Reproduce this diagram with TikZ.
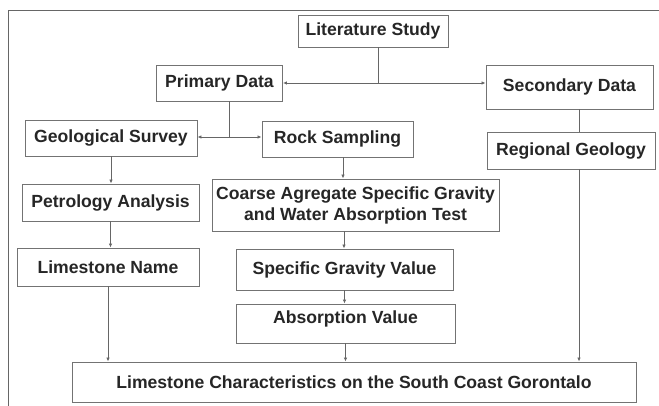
\documentclass[tikz,border=0pt]{standalone}
\usepackage{fontspec}
\setmainfont{Liberation Sans}
\usetikzlibrary{arrows.meta,positioning,calc}

\begin{document}
\begin{tikzpicture}[
  x=1pt, y=-1pt,
  >={Latex[length=4pt,width=3.5pt]},
  every node/.style={font=\fontsize{17.6}{21}\selectfont\bfseries, text=black!85},
  stepbox/.style={draw=black!55, line width=0.9pt, inner sep=0pt, align=center},
  link/.style={draw=black!60, line width=0.8pt}
]
\useasboundingbox (0,0) rectangle (659,406);
\draw[link] (659,10) -- (8,10) -- (8,406);

\node[stepbox, minimum width=150, minimum height=32] (lit) at (373,31) {Literature Study};
\node[stepbox, minimum width=126, minimum height=36] (prim) at (219.5,83) {Primary Data};
\node[stepbox, minimum width=167, minimum height=44] (sec) at (569.5,87) {Secondary Data};
\node[stepbox, minimum width=172, minimum height=36] (geo) at (111,138) {Geological Survey};
\node[stepbox, minimum width=151, minimum height=36] (rock) at (337.5,139) {Rock Sampling};
\node[stepbox, minimum width=168, minimum height=37] (reg) at (571,150.5) {Regional Geology};
\node[stepbox, minimum width=177, minimum height=37] (pet) at (110.5,202.5) {Petrology Analysis};
\node[stepbox, minimum width=287, minimum height=52] (coarse) at (355.5,205) {Coarse Agregate Specific Gravity\\and Water Absorption Test};
\node[stepbox, minimum width=182, minimum height=38] (lname) at (108,267) {Limestone Name};
\node[stepbox, minimum width=217, minimum height=41] (sgv) at (344.5,269.5) {Specific Gravity Value};
\node[stepbox, minimum width=219, minimum height=39, text depth=12pt] (absv) at (345.5,323.5) {Absorption Value};
\node[stepbox, minimum width=564, minimum height=40] (lc) at (354,382) {Limestone Characteristics on the South Coast Gorontalo};

\coordinate (j1) at (378,83);
\coordinate (j2) at (229,137);
\coordinate (rx) at (579,0);

\draw[link] (lit.south -| j1) -- (j1);
\draw[link,->] (j1) -- (prim);
\draw[link,->] (j1) -- (j1 -| sec.west);
\draw[link] (prim.south -| j2) -- (j2);
\draw[link,->] (j2) -- (j2 -| geo.east);
\draw[link,->] (j2) -- (j2 -| rock.west);
\draw[link] (sec.south -| rx) -- (reg.north -| rx);
\draw[link,->] (reg.south -| rx) -- (lc.north -| rx);
\draw[link,->] (geo.south) -- (geo.south |- pet.north);
\draw[link,->] (pet.south) -- (pet.south |- lname.north);
\draw[link,->] (lname.south) -- (lname.south |- lc.north);
\draw[link,->] ([xshift=5.5]rock.south) -- ([xshift=5.5]rock.south |- coarse.north);
\draw[link,->] ([xshift=-11.5]coarse.south) -- ([xshift=-11.5]coarse.south |- sgv.north);
\draw[link,->] (sgv.south) -- (sgv.south |- absv.north);
\draw[link,->] (absv.south) -- (absv.south |- lc.north);
\end{tikzpicture}
\end{document}
